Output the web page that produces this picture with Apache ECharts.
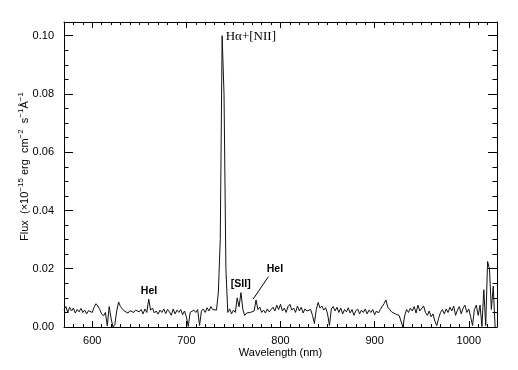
<!DOCTYPE html>
<html>
<head>
<meta charset="utf-8">
<script src="https://cdn.jsdelivr.net/npm/echarts@6/dist/echarts.min.js"></script>
<style>
html,body{margin:0;padding:0;background:#fff;}
#chart{width:518px;height:370px;}
</style>
</head>
<body>
<div id="chart"></div>
<script>
// Wavelength grid (nm)
const wavelength = [
  570,572,574,576,578,580,582,584,586,588,
  590,592,594,596,598,600,602,604,606,608,
  610,612,614,616,618,620,622,624,626,628,
  630,632,634,636,638,640,642,644,646,648,
  650,652,654,656,658,660,662,664,666,668,
  670,672,674,676,678,680,682,684,686,688,
  690,692,694,696,698,700,702,704,706,708,
  710,712,714,716,718,720,722,724,726,728,
  730,732,734,736,738,740,742,744,746,748,
  750,752,754,756,758,760,762,764,766,768,
  770,772,774,776,778,780,782,784,786,788,
  790,792,794,796,798,800,802,804,806,808,
  810,812,814,816,818,820,822,824,826,828,
  830,832,834,836,838,840,842,844,846,848,
  850,852,854,856,858,860,862,864,866,868,
  870,872,874,876,878,880,882,884,886,888,
  890,892,894,896,898,900,902,904,906,908,
  910,912,914,916,918,920,922,924,926,928,
  930,932,934,936,938,940,942,944,946,948,
  950,952,954,956,958,960,962,964,966,968,
  970,972,974,976,978,980,982,984,986,988,
  990,992,994,996,998,1000,1002,1004,1006,1008,
  1010,1012,1014,1016,1018,1020,1022,1024,1026,1028
];
// Flux (x1e-15 erg cm^-2 s^-1 A^-1)
const flux = [
  0.0060,0.0070,0.0050,0.0068,0.0055,0.0065,0.0048,0.0060,0.0052,0.0064,
  0.0050,0.0058,0.0045,0.0056,0.0062,0.0050,0.0068,0.0080,0.0072,0.0060,
  0.0045,0.0038,0.0050,0.0004,0.0070,0.0030,0.0000,0.0008,0.0055,0.0086,
  0.0070,0.0062,0.0055,0.0060,0.0048,0.0056,0.0062,0.0050,0.0058,0.0064,
  0.0052,0.0060,0.0045,0.0062,0.0050,0.0096,0.0058,0.0065,0.0048,0.0055,
  0.0044,0.0058,0.0050,0.0062,0.0046,0.0060,0.0052,0.0040,0.0062,0.0045,
  0.0058,0.0050,0.0060,0.0042,0.0055,0.0035,0.0002,0.0050,0.0045,0.0058,
  0.0050,0.0060,0.0005,0.0055,0.0062,0.0050,0.0066,0.0055,0.0070,0.0060,
  0.0065,0.0058,0.0120,0.0300,0.1000,0.0800,0.0200,0.0050,0.0062,0.0045,
  0.0058,0.0050,0.0100,0.0070,0.0118,0.0060,0.0040,0.0048,0.0042,0.0050,
  0.0045,0.0055,0.0093,0.0060,0.0068,0.0050,0.0058,0.0048,0.0062,0.0052,
  0.0060,0.0068,0.0055,0.0075,0.0060,0.0078,0.0055,0.0065,0.0050,0.0070,
  0.0078,0.0058,0.0065,0.0050,0.0072,0.0055,0.0068,0.0048,0.0062,0.0055,
  0.0050,0.0060,0.0040,0.0012,0.0060,0.0084,0.0065,0.0072,0.0058,0.0066,
  0.0045,0.0005,0.0062,0.0070,0.0055,0.0068,0.0050,0.0065,0.0045,0.0060,
  0.0052,0.0066,0.0048,0.0060,0.0040,0.0055,0.0062,0.0045,0.0058,0.0050,
  0.0062,0.0045,0.0058,0.0050,0.0060,0.0042,0.0055,0.0048,0.0060,0.0065,
  0.0080,0.0093,0.0068,0.0060,0.0052,0.0058,0.0045,0.0050,0.0040,0.0035,
  0.0000,0.0040,0.0060,0.0050,0.0065,0.0055,0.0070,0.0048,0.0075,0.0055,
  0.0060,0.0072,0.0050,0.0040,0.0055,0.0035,0.0045,0.0020,0.0005,0.0030,
  0.0050,0.0060,0.0045,0.0062,0.0050,0.0068,0.0055,0.0072,0.0040,0.0058,
  0.0070,0.0045,0.0065,0.0075,0.0050,0.0062,0.0035,0.0005,0.0060,0.0075,
  0.0040,0.0075,0.0002,0.0128,0.0005,0.0225,0.0200,0.0060,0.0140,0.0000
];
const xMajorTicks = [600, 700, 800, 900, 1000];
const xMinorTicks = [580,590,610,620,630,640,650,660,670,680,690,710,720,730,740,750,760,770,780,790,
                     810,820,830,840,850,860,870,880,890,910,920,930,940,950,960,970,980,990,1010,1020];
const yMajorTicks = [0, 0.02, 0.04, 0.06, 0.08, 0.10];
const yMinorTicks = [0.005,0.01,0.015,0.025,0.03,0.035,0.045,0.05,0.055,0.065,0.07,0.075,0.085,0.09,0.095];
// Line annotations: text, wavelength, flux (anchor = text centre)
const annotations = [
  { text: 'Hα+[NII]', x: 768.5, y: 0.0997 },
  { text: 'HeI', x: 660.3, y: 0.0124 },
  { text: '[SII]', x: 757.8, y: 0.0146 },
  { text: 'HeI', x: 794.1, y: 0.0198 }
];
const leader = [[787.2, 0.0173], [771.0, 0.0096]];

const X_MIN = 570, X_MAX = 1030, Y_MIN = 0, Y_MAX = 0.1047;
const FONT = 'Liberation Sans';
const black = '#000';

function xAxisDef(pos, major) {
  return {
    type: 'value', position: pos, min: X_MIN, max: X_MAX,
    splitLine: { show: false },
    axisLine: { show: major, onZero: false, lineStyle: { color: black, width: 1 } },
    axisTick: { show: true, inside: true, length: major ? 6 : 3,
      customValues: major ? xMajorTicks : xMinorTicks,
      lineStyle: { color: black, width: 1 } },
    axisLabel: { show: major && pos === 'bottom', customValues: xMajorTicks, margin: 8,
      color: black, fontFamily: FONT, fontSize: 11, formatter: v => String(v) },
    name: (major && pos === 'bottom') ? 'Wavelength (nm)' : '',
    nameLocation: 'middle', nameGap: 20, nameMoveOverlap: false,
    nameTextStyle: { color: black, fontFamily: FONT, fontSize: 11 }
  };
}
function yAxisDef(pos, major) {
  return {
    type: 'value', position: pos, min: Y_MIN, max: Y_MAX,
    splitLine: { show: false },
    axisLine: { show: major, onZero: false, lineStyle: { color: black, width: 1 } },
    axisTick: { show: true, inside: true, length: major ? 9 : 4.5,
      customValues: major ? yMajorTicks : yMinorTicks,
      lineStyle: { color: black, width: 1 } },
    axisLabel: { show: major && pos === 'left', customValues: yMajorTicks, margin: 10,
      color: black, fontFamily: FONT, fontSize: 11,
      formatter: v => v.toFixed(2) },
    name: (major && pos === 'left') ? 'Flux  (×10{sup|−15} erg  cm{sup|−2}  s{sup|−1}Å{sup|−1}' : '',
    nameLocation: 'middle', nameGap: 32, nameRotate: 90, nameMoveOverlap: false,
    nameTextStyle: { color: black, fontFamily: FONT, fontSize: 11, padding: [0, 0, 0, 16],
      rich: { sup: { fontFamily: FONT, fontSize: 8, color: black, verticalAlign: 'top', lineHeight: 15 } } }
  };
}

const chart = echarts.init(document.getElementById('chart'), null, { renderer: 'canvas' });
const option = {
  animation: false,
  backgroundColor: '#fff',
  grid: { left: 64, right: 21, top: 22, bottom: 43, containLabel: false },
  xAxis: [xAxisDef('bottom', true), xAxisDef('bottom', false), xAxisDef('top', true), xAxisDef('top', false)],
  yAxis: [yAxisDef('left', true), yAxisDef('left', false), yAxisDef('right', true), yAxisDef('right', false)],
  series: [{
    type: 'line', xAxisIndex: 0, yAxisIndex: 0,
    data: wavelength.map((w, i) => [w, flux[i]]),
    showSymbol: false, symbol: 'none',
    lineStyle: { color: '#111', width: 1 },
    clip: true
  }]
};
chart.setOption(option);

const px = p => chart.convertToPixel({ xAxisIndex: 0, yAxisIndex: 0 }, p);
const graphics = annotations.map((a, i) => {
  const p = px([a.x, a.y]);
  const isHa = i === 0;
  return {
    type: 'text', x: p[0], y: p[1],
    style: {
      text: a.text, align: 'center', verticalAlign: 'middle', fill: black,
      font: isHa ? '13px "Liberation Serif"' : 'bold 10.5px "Liberation Sans"'
    }
  };
});
const l0 = px(leader[0]), l1 = px(leader[1]);
graphics.push({ type: 'line', shape: { x1: l0[0], y1: l0[1], x2: l1[0], y2: l1[1] },
  style: { stroke: black, lineWidth: 1 } });
chart.setOption({ graphic: graphics });
</script>
</body>
</html>
